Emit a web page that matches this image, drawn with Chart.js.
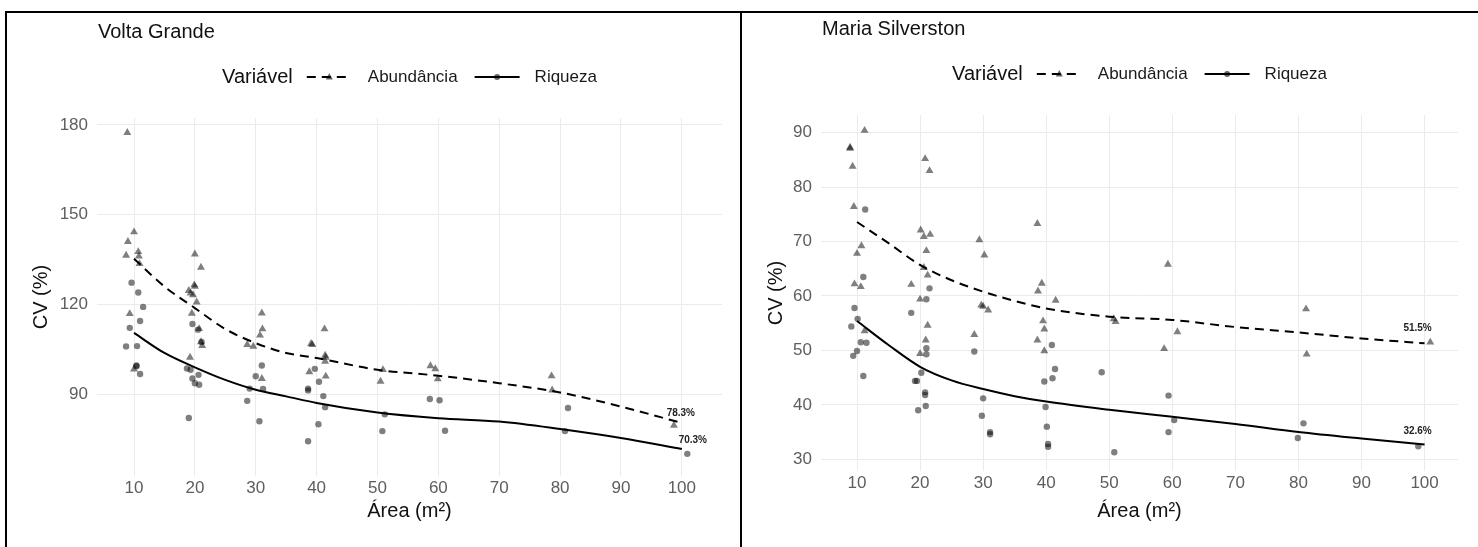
<!DOCTYPE html>
<html lang="pt-BR">
<head>
<meta charset="utf-8">
<title>CV (%) x Área</title>
<script src="https://cdn.jsdelivr.net/npm/chart.js@4.4.1/dist/chart.umd.min.js"></script>
<style>
  html, body { margin: 0; padding: 0; background: #fff; }
  body { width: 1478px; height: 547px; position: relative; overflow: hidden; }
  canvas { position: absolute; top: 13px; }
  #vg { left: 7px; }
  #ms { left: 742px; }
  .linha { position: absolute; background: #000; }
</style>
</head>
<body>
<div class="linha" style="left:5px; top:11px; width:1473px; height:2px;"></div>
<div class="linha" style="left:5px; top:11px; width:2px; height:536px;"></div>
<div class="linha" style="left:740px; top:11px; width:2px; height:536px;"></div>
<canvas id="vg" width="733" height="534"></canvas>
<canvas id="ms" width="736" height="534"></canvas>
<script>
// eixos
const xTicks = [10, 20, 30, 40, 50, 60, 70, 80, 90, 100];
const vgYTicks = [90, 120, 150, 180];
const msYTicks = [30, 40, 50, 60, 70, 80, 90];

// Volta Grande - pontos
const vgAbundX = [8.9, 10, 9, 8.7, 10.7, 10.8, 10.9, 9.3, 10,
  20, 21, 19, 19.3, 19.9, 20, 19.7, 20.3, 19.5, 19.2, 20.7, 21, 21.2,
  31, 31.1, 30.7, 28.6, 29.6, 31,
  41.3, 39.1, 39.3, 41.4, 41.5, 41.4, 38.8, 41.5,
  50.9, 50.5, 58.7, 59.5, 59.9, 78.6, 78.7, 98.7];
const vgAbundY = [177.4, 144.2, 141, 136.4, 137.6, 136.1, 133.6, 116.9, 98.4,
  136.8, 132.4, 124.6, 123.8, 126.5, 126, 123.2, 120.8, 117, 102.3, 111.9, 107.5, 106.2,
  117.1, 111.8, 109.7, 106.6, 106, 95.2,
  111.8, 106.9, 106.6, 103, 102.3, 101, 97.5, 96,
  98.2, 94.3, 99.5, 98.5, 95.1, 96.1, 91.4, 79.6];
const vgRiqX = [9.6, 10.7, 11.5, 11, 9.3, 8.7, 10.5, 10.4, 10.4, 11,
  19.6, 20.5, 21.1, 18.7, 19.3, 19.6, 20, 20.6, 20.7, 19,
  31, 30, 29, 31.2, 28.6, 30.6,
  39.7, 40.4, 38.6, 38.6, 41.1, 41.4, 40.3, 38.6,
  51.2, 50.8, 58.6, 60.2, 61.1, 81.3, 80.8, 100.9];
const vgRiqY = [127.3, 124, 119.2, 114.5, 112.2, 106, 106.1, 99.4, 99.6, 96.8,
  113.5, 111.6, 107.5, 98.6, 98.2, 95.3, 93.7, 96.5, 93.2, 82.1,
  99.6, 96, 91.9, 91.8, 87.8, 81,
  98.5, 94.2, 91.9, 91.3, 89.4, 85.7, 80, 74.3,
  83.3, 77.7, 88.4, 88, 77.8, 85.4, 77.7, 70.1];
// Volta Grande - curvas ajustadas
const curvaX = [10, 15, 20, 25, 30, 35, 40, 50, 60, 70, 80, 90, 100];
const vgCurvaAbund = [135.3, 126, 118.8, 111.8, 107.1, 103.8, 102.1, 98.2, 96.2, 93.7, 90.6, 85.9, 80.4];
const vgCurvaRiq = [110.5, 103.8, 99.0, 94.8, 91.5, 89.3, 87.1, 83.9, 82.0, 80.9, 78.4, 75.4, 71.7];
const vgRotulos = ['78.3%', '70.3%'];

// Maria Silverston - pontos
const msAbundX = [11.2, 8.9, 8.9, 9.3, 9.5, 10.7, 10, 9.6, 10.6, 11.2,
  20.8, 21.5, 20.1, 20.6, 21.6, 21, 20.6, 21.2, 18.6, 20, 21.2, 20.9, 20,
  29.4, 30.2, 29.7, 30, 30.8, 28.6,
  38.6, 39.3, 38.7, 41.5, 39.5, 39.7, 38.6, 39.7,
  50.7, 51, 59.3, 60.8, 58.7, 81.2, 81.3, 100.9];
const msAbundY = [90.4, 87.1, 87.3, 83.8, 76.4, 69.2, 67.8, 62.2, 61.7, 53.6,
  85.2, 83, 72.1, 70.9, 71.3, 68.3, 65.2, 63.8, 62.1, 59.4, 54.6, 51.9, 49.4,
  70.3, 67.5, 58.3, 58.1, 57.4, 52.9,
  73.3, 62.3, 60.9, 59.2, 55.4, 53.9, 51.9, 49.9,
  55.8, 55.3, 65.8, 53.4, 50.3, 57.6, 49.3, 51.5];
const msRiqX = [11.3, 11, 9.6, 10.1, 9.1, 10.6, 11.5, 10, 9.4, 11,
  21.5, 21, 18.6, 21, 21, 20.2, 19.2, 19.5, 20.8, 20.8, 19.7, 20.9,
  28.6, 30, 29.8, 31.1, 31.1,
  40.9, 41.4, 41, 39.7, 39.9, 40.1, 40.3, 40.3,
  48.8, 50.8, 59.4, 60.3, 59.4, 80.8, 79.9, 99];
const msRiqY = [75.9, 63.5, 57.8, 55.8, 54.4, 51.5, 51.4, 49.9, 49, 45.3,
  61.4, 59.4, 56.9, 50.4, 49.3, 45.9, 44.4, 44.4, 42.3, 41.8, 39, 39.8,
  49.8, 41.2, 38, 35, 34.6,
  51, 46.6, 44.9, 44.3, 39.6, 36, 32.8, 32.3,
  46, 31.3, 41.7, 37.2, 35, 36.6, 33.9, 32.4];
const msCurvaAbund = [73.6, 69.7, 65.7, 62.9, 60.8, 59.1, 57.7, 56.2, 55.6, 54.3, 53.3, 52.2, 51.3];
const msCurvaRiq = [55.4, 51.0, 47.0, 44.5, 42.9, 41.6, 40.6, 39.1, 37.8, 36.5, 35.0, 33.8, 32.7];
const msRotulos = ['51.5%', '32.6%'];

const legendaTitulo = 'Variável';
const series = ['Abundância', 'Riqueza'];

const FONTE = '"Liberation Sans", Arial, sans-serif';
Chart.defaults.font.family = FONTE;

function pares(xs, ys) {
  return xs.map((x, i) => ({ x: x, y: ys[i] }));
}

// titulo do painel + legenda no estilo ggplot
const pluginLegenda = {
  id: 'legendaGG',
  afterDraw(chart, args, opts) {
    const ctx = chart.ctx;
    const area = chart.chartArea;
    ctx.save();
    ctx.textBaseline = 'middle';
    ctx.textAlign = 'left';
    ctx.fillStyle = '#111';
    ctx.font = '20px ' + FONTE;
    ctx.fillText(opts.titulo, area.left + 1, area.top - 86);

    const yl = area.top - 41;
    ctx.font = '20px ' + FONTE;
    const wTit = ctx.measureText(legendaTitulo).width;
    ctx.font = '17px ' + FONTE;
    const w1 = ctx.measureText(series[0]).width;
    const w2 = ctx.measureText(series[1]).width;
    const amostra = 45;
    const total = wTit + 14 + amostra + 16 + w1 + 17 + amostra + 15 + w2;
    let x = (area.left + area.right) / 2 - total / 2;

    ctx.font = '20px ' + FONTE;
    ctx.fillStyle = '#111';
    ctx.fillText(legendaTitulo, x, yl);
    x += wTit + 14;

    // amostra tracejada com triangulo
    ctx.strokeStyle = '#000';
    ctx.lineWidth = 2;
    ctx.setLineDash([9, 6]);
    ctx.beginPath(); ctx.moveTo(x, yl); ctx.lineTo(x + amostra, yl); ctx.stroke();
    ctx.setLineDash([]);
    ctx.fillStyle = 'rgba(0,0,0,0.6)';
    ctx.beginPath();
    ctx.moveTo(x + amostra / 2, yl - 4);
    ctx.lineTo(x + amostra / 2 + 3.5, yl + 2.5);
    ctx.lineTo(x + amostra / 2 - 3.5, yl + 2.5);
    ctx.closePath(); ctx.fill();
    x += amostra + 16;

    ctx.font = '17px ' + FONTE;
    ctx.fillStyle = '#1a1a1a';
    ctx.fillText(series[0], x, yl);
    x += w1 + 17;

    // amostra continua com circulo
    ctx.beginPath(); ctx.moveTo(x, yl); ctx.lineTo(x + amostra, yl); ctx.stroke();
    ctx.fillStyle = 'rgba(0,0,0,0.6)';
    ctx.beginPath(); ctx.arc(x + amostra / 2, yl, 3, 0, Math.PI * 2); ctx.fill();
    x += amostra + 15;

    ctx.fillStyle = '#1a1a1a';
    ctx.fillText(series[1], x, yl);
    ctx.restore();
  }
};

// rotulos no fim das curvas
const pluginRotulos = {
  id: 'rotulosFim',
  afterDatasetsDraw(chart, args, opts) {
    const { ctx, scales: { x, y } } = chart;
    ctx.save();
    ctx.font = 'bold 10px ' + FONTE;
    ctx.fillStyle = '#222';
    ctx.textAlign = 'center';
    ctx.textBaseline = 'middle';
    opts.itens.forEach(function (it) {
      const d = chart.data.datasets[it.ds].data;
      const p = d[d.length - 1];
      ctx.fillText(it.texto, x.getPixelForValue(p.x) + it.dx, y.getPixelForValue(p.y) + it.dy);
    });
    ctx.restore();
  }
};

function montaGrafico(id, cfg) {
  const ctx = document.getElementById(id);
  return new Chart(ctx, {
    type: 'scatter',
    data: {
      datasets: [
        {
          label: series[0] + ' (curva)',
          data: pares(curvaX, cfg.curvaAbund),
          showLine: true,
          borderColor: '#000',
          borderWidth: 2,
          borderDash: [9, 6],
          pointRadius: 0,
          cubicInterpolationMode: 'monotone'
        },
        {
          label: series[1] + ' (curva)',
          data: pares(curvaX, cfg.curvaRiq),
          showLine: true,
          borderColor: '#000',
          borderWidth: 2,
          pointRadius: 0,
          cubicInterpolationMode: 'monotone'
        },
        {
          label: series[0],
          data: pares(cfg.abundX, cfg.abundY),
          pointStyle: 'triangle',
          pointRadius: 4.6,
          backgroundColor: 'rgba(0,0,0,0.5)',
          borderWidth: 0
        },
        {
          label: series[1],
          data: pares(cfg.riqX, cfg.riqY),
          pointStyle: 'circle',
          pointRadius: 3.2,
          backgroundColor: 'rgba(0,0,0,0.5)',
          borderWidth: 0
        }
      ]
    },
    options: {
      responsive: false,
      animation: false,
      devicePixelRatio: 1,
      layout: { padding: { top: cfg.padTop, right: cfg.padRight, left: 0, bottom: 0 } },
      plugins: {
        legend: { display: false },
        tooltip: { enabled: false },
        legendaGG: { titulo: cfg.titulo },
        rotulosFim: {
          itens: [
            { ds: 0, texto: cfg.rotulos[0], dx: cfg.off[0], dy: cfg.off[1] },
            { ds: 1, texto: cfg.rotulos[1], dx: cfg.off[2], dy: cfg.off[3] }
          ]
        }
      },
      scales: {
        x: {
          type: 'linear',
          min: cfg.xMin, max: cfg.xMax,
          afterBuildTicks: function (s) { s.ticks = xTicks.map(v => ({ value: v })); },
          afterFit: function (s) { s.height = cfg.xAltura; },
          grid: { color: '#ebebeb', lineWidth: 1, drawTicks: false },
          border: { display: false },
          ticks: { color: '#5e5e5e', font: { size: 17 }, padding: 2 },
          title: {
            display: true, text: 'Área (m²)', color: '#111',
            font: { size: 20 }, padding: { top: 0, bottom: 24 }
          }
        },
        y: {
          type: 'linear',
          min: cfg.yMin, max: cfg.yMax,
          afterBuildTicks: function (s) { s.ticks = cfg.yTicks.map(v => ({ value: v })); },
          afterFit: function (s) { s.width = cfg.yLargura; },
          grid: { color: '#ebebeb', lineWidth: 1, drawTicks: false },
          border: { display: false },
          ticks: { color: '#5e5e5e', font: { size: 17 }, padding: 9 },
          title: {
            display: true, text: 'CV (%)', color: '#111',
            font: { size: 20 }, padding: { top: 22, bottom: 0 }
          }
        }
      }
    },
    plugins: [pluginLegenda, pluginRotulos]
  });
}

montaGrafico('vg', {
  titulo: 'Volta Grande',
  abundX: vgAbundX, abundY: vgAbundY, riqX: vgRiqX, riqY: vgRiqY,
  curvaAbund: vgCurvaAbund, curvaRiq: vgCurvaRiq,
  rotulos: vgRotulos, off: [-1, -10, 11, -9],
  xMin: 3.92, xMax: 106.6, yMin: 62.7, yMax: 182.3, yTicks: vgYTicks,
  padTop: 105, padRight: 18, xAltura: 71, yLargura: 90
});

montaGrafico('ms', {
  titulo: 'Maria Silverston',
  abundX: msAbundX, abundY: msAbundY, riqX: msRiqX, riqY: msRiqY,
  curvaAbund: msCurvaAbund, curvaRiq: msCurvaRiq,
  rotulos: msRotulos, off: [-7, -15, -7, -13],
  xMin: 4.29, xMax: 105.3, yMin: 27.85, yMax: 93.25, yTicks: msYTicks,
  padTop: 102, padRight: 20, xAltura: 76, yLargura: 79
});
</script>
</body>
</html>
